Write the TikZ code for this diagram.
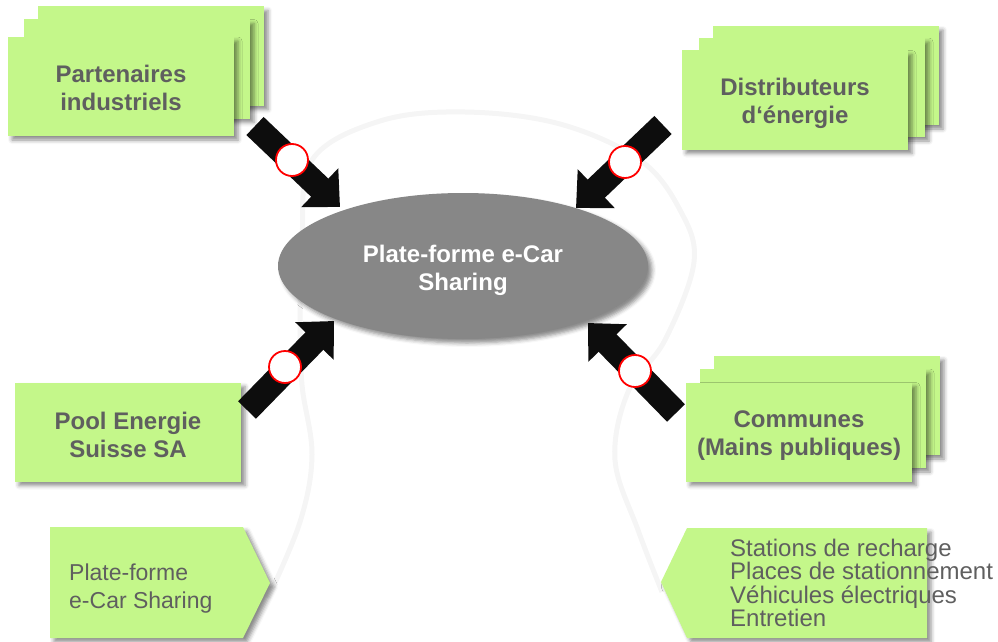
\documentclass[tikz,border=0pt]{standalone}
\usepackage{fontspec}
\setmainfont{Liberation Sans}
\usetikzlibrary{shapes.geometric,arrows.meta,shadows,shadows.blur}
\definecolor{boxgreen}{HTML}{C4F78A}
\definecolor{textgray}{HTML}{5F5F5F}
\definecolor{ellgray}{HTML}{878787}
\definecolor{arrowblack}{HTML}{0D0D0D}
\definecolor{bulbgray}{HTML}{F5F5F5}
\tikzset{
  sh/.style={blur shadow={shadow xshift=4pt, shadow yshift=-4pt, shadow blur radius=4pt, shadow opacity=45}},
  gbox/.style={rectangle, fill=boxgreen, minimum width=226pt, minimum height=99pt, inner sep=0pt, sh},
  btext/.style={text=textgray, align=center, inner sep=0pt, font=\bfseries\fontsize{24}{28}\selectfont},
  bigarrow/.style={draw=arrowblack, line width=25pt, -{Triangle[width=52pt,length=28pt]}},
  ring/.style={circle, draw=red, line width=1.8pt, fill=white, minimum size=32pt, inner sep=0pt},
  bulb/.style={draw=bulbgray, line width=5pt},
  plain/.style={text=textgray, align=left, inner sep=0pt}
}
\begin{document}
\begin{tikzpicture}[x=1pt,y=-1pt]
\useasboundingbox (0,0) rectangle (998,642);
% faint background outline
\draw[bulb] plot[smooth, tension=0.6] coordinates {(268,598) (300,522) (312,455) (302,385) (300,320) (302,240) (312,160) (380,121) (465,112) (560,124) (640,160) (680,210) (694,262) (665,340) (628,392) (615,460) (638,530) (662,592)};
% stacks
\node[gbox] (tlb) at (151,56) {};
\node[gbox] (tlm) at (137,69) {};
\node[gbox] (tl) at (121,86.5) {};
\node[btext] (tlt) at (121,88) {Partenaires\\industriels};
\node[gbox] (trb) at (826,75.5) {};
\node[gbox] (trm) at (812,87.5) {};
\node[gbox] (tr) at (795,100) {};
\node[btext] (trt) at (795,103) {Distributeurs\\d‘énergie};
\node[gbox] (brb) at (827,405.5) {};
\node[gbox] (brm) at (813,418.5) {};
\node[gbox] (br) at (799,432) {};
\node[btext] (brt) at (799,436) {Communes\\(Mains publiques)};
\node[gbox] (bl) at (128,432) {};
\node[btext] (blt) at (128,435) {Pool Energie\\Suisse SA};
% center ellipse
\node[ellipse, fill=ellgray, minimum width=370pt, minimum height=146pt, inner sep=0pt, sh] (plat) at (463,266) {};
\node[text=white, align=center, font=\bfseries\fontsize{24}{28}\selectfont, inner sep=0pt] (platt) at (463,270) {Plate-forme e-Car\\Sharing};
% arrows
\coordinate (a1s) at (255,126); \coordinate (a1e) at (340,207);
\coordinate (a2s) at (663,125); \coordinate (a2e) at (576,208);
\coordinate (a3s) at (247,410); \coordinate (a3e) at (334,321);
\coordinate (a4s) at (676,413); \coordinate (a4e) at (588,323);
\draw[bigarrow] (a1s) -- (a1e);
\draw[bigarrow] (a2s) -- (a2e);
\draw[bigarrow] (a3s) -- (a3e);
\draw[bigarrow] (a4s) -- (a4e);
\node[ring] (c1) at (292,160) {};
\node[ring] (c2) at (625,162) {};
\node[ring] (c3) at (285,367) {};
\node[ring] (c4) at (635,371) {};
% bottom pentagons
\path[fill=boxgreen, sh] (50,527) -- (243,527) -- (270,583) -- (243,638) -- (50,638) -- cycle;
\node[plain, anchor=west, font=\fontsize{23}{28}\selectfont] (plt) at (69,589) {Plate-forme\\e-Car Sharing};
\path[fill=boxgreen, sh] (687,528) -- (927,528) -- (927,638) -- (687,638) -- (661,582) -- cycle;
\node[plain, anchor=west, font=\fontsize{24}{23.5}\selectfont] (lst) at (730,583) {Stations de recharge\\Places de stationnement\\Véhicules électriques\\Entretien};
\end{tikzpicture}
\end{document}
